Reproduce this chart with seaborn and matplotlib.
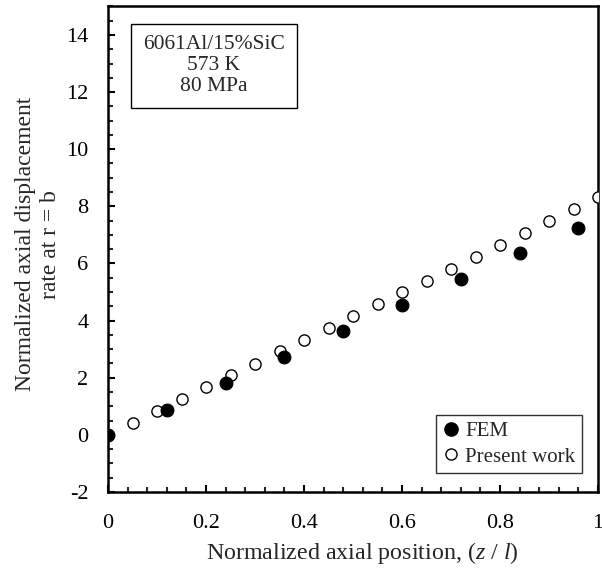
import pandas as pd
import numpy as np
import matplotlib
matplotlib.use("Agg")
import matplotlib.pyplot as plt
import seaborn as sns
from matplotlib.ticker import MultipleLocator
from matplotlib.lines import Line2D

# data
fem_z = [0.0, 0.12, 0.24, 0.36, 0.48, 0.60, 0.72, 0.84, 0.96]
fem_u = [0.0, 0.88, 1.83, 2.72, 3.64, 4.56, 5.46, 6.38, 7.25]

pw_z = [0.0, 0.05, 0.10, 0.15, 0.20, 0.25, 0.30, 0.35, 0.40, 0.45, 0.50,
        0.55, 0.60, 0.65, 0.70, 0.75, 0.80, 0.85, 0.90, 0.95, 1.00]
pw_u = [0.0, 0.41, 0.83, 1.25, 1.66, 2.08, 2.49, 2.92, 3.33, 3.73, 4.17,
        4.57, 4.99, 5.40, 5.82, 6.24, 6.65, 7.08, 7.49, 7.91, 8.33]

x_ticks = [0, 0.2, 0.4, 0.6, 0.8, 1.0]
x_ticklabels = ["0", "0.2", "0.4", "0.6", "0.8", "1"]
y_ticks = [-2, 0, 2, 4, 6, 8, 10, 12, 14]

fem = pd.DataFrame({"z": fem_z, "u": fem_u})
pw = pd.DataFrame({"z": pw_z, "u": pw_u})

sns.set_style("ticks")
plt.rcParams['font.family'] = ['Liberation Serif', 'DejaVu Serif']
plt.rcParams['mathtext.fontset'] = 'custom'
plt.rcParams['mathtext.it'] = 'Liberation Serif:italic'
plt.rcParams['mathtext.rm'] = 'Liberation Serif'

fig = plt.figure(figsize=(6.02, 5.71), dpi=100)
ax = fig.add_axes([0.1794, 0.1384, 0.814, 0.8504])

sns.scatterplot(data=pw, x="z", y="u", ax=ax, marker="o", s=65,
                facecolor="white", edgecolor="black", linewidth=1.0, zorder=3)
sns.scatterplot(data=fem, x="z", y="u", ax=ax, marker="o", s=85,
                color="black", edgecolor="black", linewidth=0.8, zorder=4)

ax.set_xlim(0, 1)
ax.set_ylim(-2, 15)
ax.xaxis.set_minor_locator(MultipleLocator(0.04))
ax.yaxis.set_minor_locator(MultipleLocator(0.5))
ax.set_xticks(x_ticks)
ax.set_xticklabels(x_ticklabels)
ax.set_yticks(y_ticks)
ax.set_yticklabels([str(v) for v in y_ticks])

ax.tick_params(which="major", direction="in", length=5, width=1.5, labelsize=16, colors="black")
ax.tick_params(which="minor", direction="in", length=3.5, width=1.5)
ax.tick_params(axis="x", which="major", pad=16)
ax.tick_params(axis="y", which="major", pad=14)
for sp in ax.spines.values():
    sp.set_linewidth(1.8)
    sp.set_color("black")

ax.set_xlabel(r"Normalized axial position, ($z$ / $l$)", fontsize=17.3)
ax.xaxis.set_label_coords(0.52, -0.098)
ax.set_ylabel("Normalized axial displacement\nrate at r = b", fontsize=17,
              linespacing=1.25)
ax.yaxis.set_label_coords(-0.095, 0.51)

ax.text(0.216, 0.878, "6061Al/15%SiC\n573 K\n80 MPa", transform=ax.transAxes,
        ha="center", va="center", fontsize=15.5, linespacing=1.12,
        bbox=dict(boxstyle="square,pad=0.55", facecolor="white", edgecolor="black", linewidth=1.0))

handles = [
    Line2D([], [], marker="o", linestyle="none", markersize=9.5, markerfacecolor="black",
           markeredgecolor="black", label="FEM"),
    Line2D([], [], marker="o", linestyle="none", markersize=8, markerfacecolor="white",
           markeredgecolor="black", label="Present work"),
]
leg = ax.legend(handles=handles, loc="lower right", bbox_to_anchor=(0.967, 0.039),
                fontsize=15, frameon=True, fancybox=False, edgecolor="black",
                handlelength=0.8, handletextpad=0.3, borderpad=0.3, labelspacing=0.3,
                borderaxespad=0.0)
leg.get_frame().set_linewidth(1.0)

fig.savefig("out.png", dpi=100)
